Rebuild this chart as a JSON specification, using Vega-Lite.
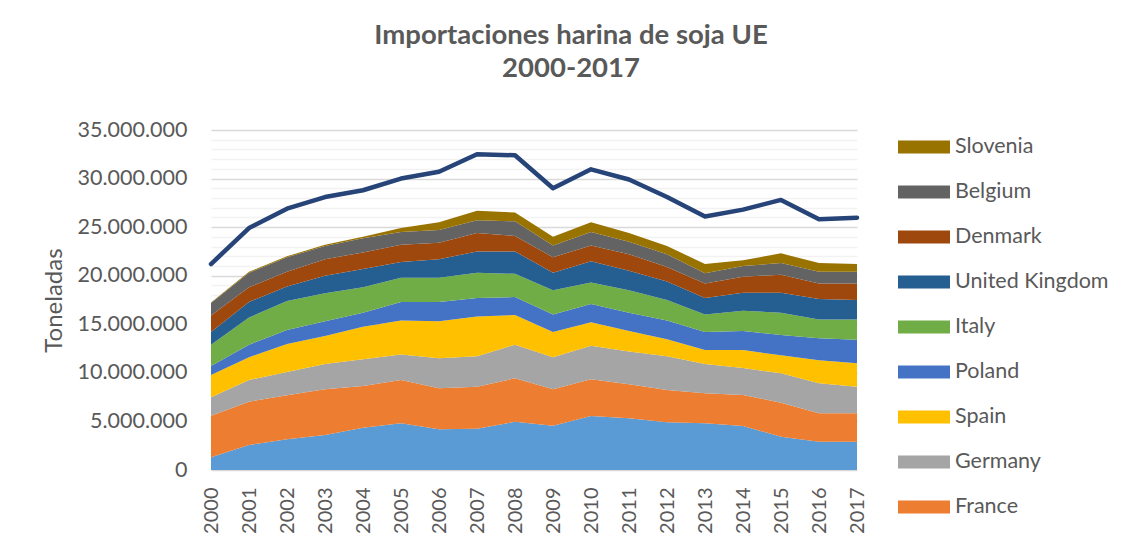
{
  "$schema": "https://vega.github.io/schema/vega-lite/v6.json",
  "width": 646,
  "height": 340,
  "autosize": {"type": "none"},
  "padding": {"left": 211, "top": 130, "right": 275, "bottom": 82},
  "background": "white",
  "title": {
    "text": ["Importaciones harina de soja UE", "2000-2017"],
    "font": "Lato",
    "fontSize": 27.5,
    "fontWeight": "bold",
    "color": "#595959",
    "lineHeight": 33,
    "anchor": "middle",
    "frame": "group",
    "dx": 37,
    "offset": 37
  },
  "data": {
    "values": [
      {"year": "2000", "Netherlands": 1310000, "France": 4280000, "Germany": 1890000, "Spain": 2300000, "Poland": 920000, "Italy": 2200000, "United Kingdom": 1300000, "Denmark": 1700000, "Belgium": 1300000, "Slovenia": 50000, "UE": 21200000},
      {"year": "2001", "Netherlands": 2570000, "France": 4460000, "Germany": 2240000, "Spain": 2330000, "Poland": 1300000, "Italy": 2800000, "United Kingdom": 1600000, "Denmark": 1500000, "Belgium": 1500000, "Slovenia": 100000, "UE": 24900000},
      {"year": "2002", "Netherlands": 3160000, "France": 4530000, "Germany": 2410000, "Spain": 2870000, "Poland": 1430000, "Italy": 3000000, "United Kingdom": 1500000, "Denmark": 1500000, "Belgium": 1500000, "Slovenia": 100000, "UE": 26900000},
      {"year": "2003", "Netherlands": 3600000, "France": 4700000, "Germany": 2600000, "Spain": 2900000, "Poland": 1500000, "Italy": 2900000, "United Kingdom": 1800000, "Denmark": 1700000, "Belgium": 1360000, "Slovenia": 140000, "UE": 28100000},
      {"year": "2004", "Netherlands": 4360000, "France": 4290000, "Germany": 2750000, "Spain": 3350000, "Poland": 1450000, "Italy": 2600000, "United Kingdom": 1900000, "Denmark": 1700000, "Belgium": 1450000, "Slovenia": 150000, "UE": 28800000},
      {"year": "2005", "Netherlands": 4800000, "France": 4470000, "Germany": 2630000, "Spain": 3500000, "Poland": 1900000, "Italy": 2500000, "United Kingdom": 1600000, "Denmark": 1800000, "Belgium": 1300000, "Slovenia": 400000, "UE": 30000000},
      {"year": "2006", "Netherlands": 4190000, "France": 4220000, "Germany": 3090000, "Spain": 3800000, "Poland": 2000000, "Italy": 2500000, "United Kingdom": 1900000, "Denmark": 1700000, "Belgium": 1300000, "Slovenia": 800000, "UE": 30700000},
      {"year": "2007", "Netherlands": 4250000, "France": 4330000, "Germany": 3120000, "Spain": 4100000, "Poland": 1900000, "Italy": 2600000, "United Kingdom": 2200000, "Denmark": 1900000, "Belgium": 1300000, "Slovenia": 1000000, "UE": 32500000},
      {"year": "2008", "Netherlands": 4970000, "France": 4470000, "Germany": 3460000, "Spain": 3060000, "Poland": 1840000, "Italy": 2400000, "United Kingdom": 2300000, "Denmark": 1600000, "Belgium": 1500000, "Slovenia": 900000, "UE": 32400000},
      {"year": "2009", "Netherlands": 4560000, "France": 3740000, "Germany": 3300000, "Spain": 2600000, "Poland": 1800000, "Italy": 2500000, "United Kingdom": 1800000, "Denmark": 1600000, "Belgium": 1200000, "Slovenia": 900000, "UE": 29000000},
      {"year": "2010", "Netherlands": 5560000, "France": 3780000, "Germany": 3460000, "Spain": 2400000, "Poland": 1900000, "Italy": 2200000, "United Kingdom": 2200000, "Denmark": 1600000, "Belgium": 1400000, "Slovenia": 1000000, "UE": 30950000},
      {"year": "2011", "Netherlands": 5320000, "France": 3500000, "Germany": 3380000, "Spain": 2100000, "Poland": 1900000, "Italy": 2300000, "United Kingdom": 2000000, "Denmark": 1700000, "Belgium": 1300000, "Slovenia": 900000, "UE": 29900000},
      {"year": "2012", "Netherlands": 4910000, "France": 3330000, "Germany": 3460000, "Spain": 1750000, "Poland": 1950000, "Italy": 2100000, "United Kingdom": 1900000, "Denmark": 1500000, "Belgium": 1300000, "Slovenia": 860000, "UE": 28100000},
      {"year": "2013", "Netherlands": 4800000, "France": 3100000, "Germany": 3000000, "Spain": 1450000, "Poland": 1850000, "Italy": 1800000, "United Kingdom": 1700000, "Denmark": 1500000, "Belgium": 1050000, "Slovenia": 950000, "UE": 26100000},
      {"year": "2014", "Netherlands": 4530000, "France": 3190000, "Germany": 2780000, "Spain": 1850000, "Poland": 1950000, "Italy": 2100000, "United Kingdom": 1850000, "Denmark": 1650000, "Belgium": 1100000, "Slovenia": 600000, "UE": 26800000},
      {"year": "2015", "Netherlands": 3430000, "France": 3500000, "Germany": 3020000, "Spain": 1850000, "Poland": 2100000, "Italy": 2300000, "United Kingdom": 2050000, "Denmark": 1850000, "Belgium": 1200000, "Slovenia": 1000000, "UE": 27800000},
      {"year": "2016", "Netherlands": 2920000, "France": 2910000, "Germany": 3090000, "Spain": 2380000, "Poland": 2250000, "Italy": 1950000, "United Kingdom": 2100000, "Denmark": 1600000, "Belgium": 1200000, "Slovenia": 900000, "UE": 25800000},
      {"year": "2017", "Netherlands": 2920000, "France": 2910000, "Germany": 2750000, "Spain": 2420000, "Poland": 2400000, "Italy": 2100000, "United Kingdom": 2000000, "Denmark": 1700000, "Belgium": 1200000, "Slovenia": 800000, "UE": 25970000}
    ]
  },
  "layer": [
    {
      "transform": [
        {"fold": ["Netherlands", "France", "Germany", "Spain", "Poland", "Italy", "United Kingdom", "Denmark", "Belgium", "Slovenia"], "as": ["country", "t"]},
        {"calculate": "indexof(['Netherlands', 'France', 'Germany', 'Spain', 'Poland', 'Italy', 'United Kingdom', 'Denmark', 'Belgium', 'Slovenia'], datum.country)", "as": "stackOrder"}
      ],
      "mark": {"type": "area", "opacity": 1},
      "encoding": {
        "x": {
          "field": "year",
          "type": "ordinal",
          "scale": {"type": "point", "padding": 0},
          "axis": {
            "title": null,
            "labelAngle": -90,
            "labelAlign": "right",
            "labelBaseline": "middle",
            "labelFont": "Lato",
            "labelFontSize": 20,
            "labelColor": "#595959",
            "labelPadding": 17,
            "ticks": false,
            "domain": false,
            "grid": false
          }
        },
        "y": {
          "field": "t",
          "type": "quantitative",
          "stack": "zero",
          "title": "Toneladas",
          "scale": {"domain": [0, 35000000], "nice": false},
          "axis": {
            "values": [0, 1000000, 2000000, 3000000, 4000000, 5000000, 6000000, 7000000, 8000000, 9000000, 10000000, 11000000, 12000000, 13000000, 14000000, 15000000, 16000000, 17000000, 18000000, 19000000, 20000000, 21000000, 22000000, 23000000, 24000000, 25000000, 26000000, 27000000, 28000000, 29000000, 30000000, 31000000, 32000000, 33000000, 34000000, 35000000],
            "tickCount": 50,
            "labelExpr": "datum.value % 5000000 === 0 ? replace(format(datum.value, ','), regexp(',', 'g'), '.') : ''",
            "labelOverlap": false,
            "labelFont": "Lato",
            "labelFontSize": 21.5,
            "labelColor": "#595959",
            "labelPadding": 24,
            "ticks": false,
            "domain": false,
            "grid": true,
            "gridColor": {"condition": {"test": "datum.value % 5000000 === 0", "value": "#D9D9D9"}, "value": "#F2F2F2"},
            "gridWidth": 1.3,
            "titleFont": "Lato",
            "titleFontSize": 24,
            "titleFontWeight": "normal",
            "titleColor": "#595959",
            "titlePadding": 11
          }
        },
        "order": {"field": "stackOrder", "type": "quantitative", "sort": "ascending"},
        "color": {
          "field": "country",
          "type": "nominal",
          "scale": {
            "domain": ["Netherlands", "France", "Germany", "Spain", "Poland", "Italy", "United Kingdom", "Denmark", "Belgium", "Slovenia"],
            "range": ["#5B9BD5", "#ED7D31", "#A5A5A5", "#FFC000", "#4472C4", "#70AD47", "#255E91", "#9E480E", "#636363", "#997300"]
          },
          "legend": {
            "title": null,
            "orient": "right",
            "offset": 41,
            "padding": 0,
            "values": ["Slovenia", "Belgium", "Denmark", "United Kingdom", "Italy", "Poland", "Spain", "Germany", "France"],
            "symbolType": "M-1,-0.25H1V0.25H-1Z",
            "symbolSize": 2704,
            "symbolStrokeWidth": 0,
            "symbolOpacity": 1,
            "clipHeight": 34,
            "rowPadding": 11,
            "labelFont": "Lato",
            "labelFontSize": 21.5,
            "labelColor": "#595959",
            "labelOffset": 5,
            "labelLimit": 260
          }
        }
      }
    },
    {
      "mark": {"type": "line", "color": "#264478", "strokeWidth": 4.5, "strokeCap": "round", "strokeJoin": "round"},
      "encoding": {
        "x": {"field": "year", "type": "ordinal"},
        "y": {"field": "UE", "type": "quantitative", "title": "Toneladas"}
      }
    }
  ],
  "config": {
    "view": {"stroke": null},
    "font": "Lato"
  }
}
